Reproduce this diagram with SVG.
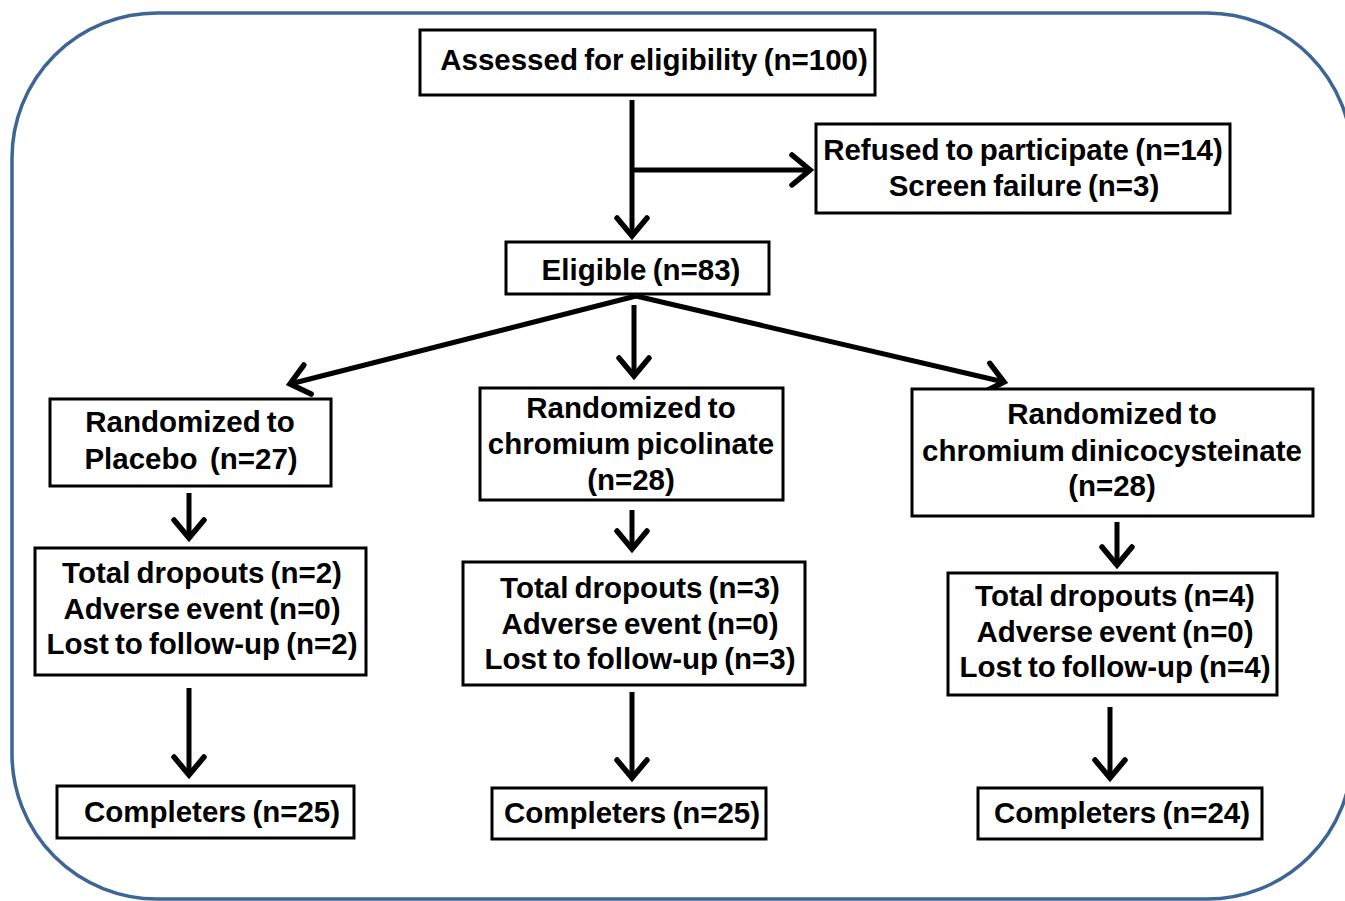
<svg xmlns="http://www.w3.org/2000/svg" width="1345" height="901" viewBox="0 0 1345 901">
<defs>
<style>
.box{fill:#fff;stroke:#000;stroke-width:3}
.t{font-family:"Liberation Sans",Arial,sans-serif;font-weight:bold;font-size:29.5px;fill:#000;text-anchor:middle;word-spacing:-2px}
.c{stroke:#000;stroke-width:5;fill:none;marker-end:url(#ah)}
</style>
<marker id="ah" markerUnits="userSpaceOnUse" viewBox="-24 -20 28 40" markerWidth="28" markerHeight="40" refX="0" refY="0" orient="auto" overflow="visible">
<path d="M-18,-15 L0,0 L-18,15" fill="none" stroke="#000" stroke-width="5.5" stroke-linecap="round" stroke-linejoin="miter"/>
</marker>
</defs>
<rect width="1345" height="901" fill="#fff"/>
<rect x="12" y="13" width="1340" height="886" rx="145" ry="145" fill="none" stroke="#3d6595" stroke-width="3.5"/>
<g id="connectors">
<line class="c" x1="632" y1="100" x2="632" y2="236"/>
<line class="c" x1="632" y1="170" x2="810" y2="170"/>
<line class="c" x1="636" y1="296" x2="290" y2="384"/>
<line class="c" x1="634" y1="305" x2="634" y2="376"/>
<line class="c" x1="636" y1="296" x2="1004" y2="382"/>
<line class="c" x1="189" y1="493" x2="189" y2="538"/>
<line class="c" x1="632" y1="510" x2="632" y2="549"/>
<line class="c" x1="1117" y1="522" x2="1117" y2="565"/>
<line class="c" x1="189" y1="688" x2="189" y2="775"/>
<line class="c" x1="632" y1="692" x2="632" y2="778"/>
<line class="c" x1="1110" y1="707" x2="1110" y2="778"/>
</g>
<g id="assessed"><rect class="box" x="420" y="30" width="455" height="65"/><text class="t" x="654" y="70">Assessed for eligibility (n=100)</text></g>
<g id="refused"><rect class="box" x="816" y="124" width="414" height="89"/><text class="t" x="1023" y="160">Refused to participate (n=14)</text><text class="t" x="1024" y="196">Screen failure (n=3)</text></g>
<g id="eligible"><rect class="box" x="506" y="242" width="263" height="52"/><text class="t" x="641" y="280">Eligible (n=83)</text></g>
<g id="placebo"><rect class="box" x="50" y="399" width="281" height="87"/><text class="t" x="190" y="432">Randomized to</text><text class="t" x="191" y="469" xml:space="preserve">Placebo  (n=27)</text></g>
<g id="picolinate"><rect class="box" x="480" y="388" width="303" height="112"/><text class="t" x="631" y="418">Randomized to</text><text class="t" x="631" y="454">chromium picolinate</text><text class="t" x="631" y="490">(n=28)</text></g>
<g id="dinicocysteinate"><rect class="box" x="912" y="389" width="401" height="127"/><text class="t" x="1112" y="424">Randomized to</text><text class="t" x="1112" y="461">chromium dinicocysteinate</text><text class="t" x="1112" y="496">(n=28)</text></g>
<g id="dropouts1"><rect class="box" x="35" y="548" width="331" height="127"/><text class="t" x="202" y="583">Total dropouts (n=2)</text><text class="t" x="202" y="619">Adverse event (n=0)</text><text class="t" x="202" y="654">Lost to follow-up (n=2)</text></g>
<g id="dropouts2"><rect class="box" x="463" y="562" width="342" height="123"/><text class="t" x="640" y="598">Total dropouts (n=3)</text><text class="t" x="640" y="634">Adverse event (n=0)</text><text class="t" x="640" y="669">Lost to follow-up (n=3)</text></g>
<g id="dropouts3"><rect class="box" x="948" y="573" width="329" height="122"/><text class="t" x="1115" y="606">Total dropouts (n=4)</text><text class="t" x="1115" y="642">Adverse event (n=0)</text><text class="t" x="1115" y="677">Lost to follow-up (n=4)</text></g>
<g id="completers1"><rect class="box" x="57" y="786" width="297" height="52"/><text class="t" x="212" y="822">Completers (n=25)</text></g>
<g id="completers2"><rect class="box" x="492" y="788" width="274" height="51"/><text class="t" x="632" y="823">Completers (n=25)</text></g>
<g id="completers3"><rect class="box" x="978" y="788" width="284" height="51"/><text class="t" x="1122" y="823">Completers (n=24)</text></g>
</svg>
